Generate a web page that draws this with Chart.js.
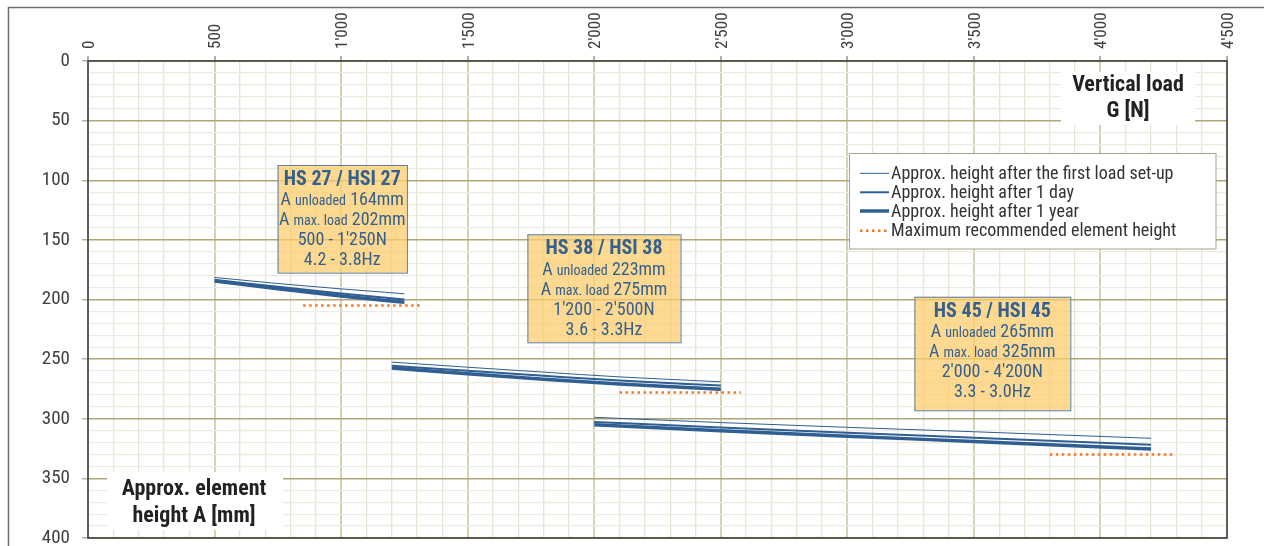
<!DOCTYPE html>
<html lang="en">
<head>
<meta charset="UTF-8">
<title>Approx. element height vs vertical load</title>
<script src="https://cdn.jsdelivr.net/npm/chart.js"></script>
<style>
  html, body { margin: 0; padding: 0; background: #fff; }
  #wrap { width: 1264px; height: 546px; position: relative; }
</style>
</head>
<body>
<div id="wrap"><canvas id="chart"></canvas></div>
<script>
// vertical load G [N] and element height A [mm]
const loadsHS27 = [500, 750, 1000, 1250];
const firstHS27 = [181.5, 186.6, 191.1, 195.2];
const dayHS27 = [183.5, 189.4, 194.9, 200.0];
const yearHS27 = [184.5, 191.0, 197.0, 202.3];

const loadsHS38 = [1200, 1500, 1800, 2100, 2500];
const firstHS38 = [252.5, 256.8, 260.9, 264.9, 269.0];
const dayHS38 = [255.5, 259.8, 264.0, 268.0, 272.2];
const yearHS38 = [257.5, 262.3, 266.8, 270.9, 275.3];

const loadsHS45 = [2000, 2500, 3000, 3500, 4200];
const firstHS45 = [298.8, 303.2, 307.2, 310.9, 316.4];
const dayHS45 = [302.7, 307.4, 311.8, 315.9, 321.7];
const yearHS45 = [305.0, 310.1, 314.7, 319.0, 325.4];

// maximum recommended element height
const maxLoadsHS27 = [850, 1320];
const maxHeightHS27 = [205, 205];
const maxLoadsHS38 = [2100, 2580];
const maxHeightHS38 = [278, 278];
const maxLoadsHS45 = [3800, 4290];
const maxHeightHS45 = [330, 330];

// info boxes
const boxTitles = ['HS 27 / HSI 27', 'HS 38 / HSI 38', 'HS 45 / HSI 45'];
const unloadedHeights = ['164mm', '223mm', '265mm'];
const maxLoadHeights = ['202mm', '275mm', '325mm'];
const loadRanges = ["500 - 1'250N", "1'200 - 2'500N", "2'000 - 4'200N"];
const freqRanges = ['4.2 - 3.8Hz', '3.6 - 3.3Hz', '3.3 - 3.0Hz'];

const legendLabels = [
  'Approx. height after the first load set-up',
  'Approx. height after 1 day',
  'Approx. height after 1 year',
  'Maximum recommended element height'
];

// box placement in axis units
const boxAreas = [
  { x0: 749, x1: 1260, y0: 87.2, y1: 177.5 },
  { x0: 1736, x1: 2341, y0: 145.3, y1: 235.9 },
  { x0: 3265, x1: 3881, y0: 197.7, y1: 292.9 }
];

const NARROW = "'Liberation Sans Narrow', 'Arial Narrow', 'Roboto Condensed', 'Liberation Sans', sans-serif";
const BLUE = '#2f5e92';
const ORANGE = '#f07a2a';

Chart.defaults.font.family = NARROW;

function pts(xs, ys) {
  return xs.map((x, i) => ({ x: x, y: ys[i] }));
}

function fmtLoad(v) {
  if (v >= 1000) return Math.floor(v / 1000) + "'" + String(v % 1000).padStart(3, '0');
  return String(v);
}

function lineSet(xs, first, day, year) {
  return [
    { data: pts(xs, first), borderColor: BLUE, borderWidth: 1 },
    { data: pts(xs, day), borderColor: BLUE, borderWidth: 2 },
    { data: pts(xs, year), borderColor: BLUE, borderWidth: 3.5 }
  ];
}

function maxLine(xs, ys) {
  return { data: pts(xs, ys), borderColor: ORANGE, borderWidth: 2.5, borderDash: [2.5, 3.5] };
}

const datasets = [
  ...lineSet(loadsHS27, firstHS27, dayHS27, yearHS27),
  ...lineSet(loadsHS38, firstHS38, dayHS38, yearHS38),
  ...lineSet(loadsHS45, firstHS45, dayHS45, yearHS45),
  maxLine(maxLoadsHS27, maxHeightHS27),
  maxLine(maxLoadsHS38, maxHeightHS38),
  maxLine(maxLoadsHS45, maxHeightHS45)
].map(d => Object.assign({ pointRadius: 0, fill: false, cubicInterpolationMode: 'monotone' }, d));

function drawMixed(ctx, cx, y, big, small, value) {
  const fBig = '18px ' + NARROW, fSmall = '14px ' + NARROW;
  ctx.font = fBig;
  const w1 = ctx.measureText(big + ' ').width, w3 = ctx.measureText(' ' + value).width;
  ctx.font = fSmall;
  const w2 = ctx.measureText(small).width;
  let x = cx - (w1 + w2 + w3) / 2;
  ctx.textAlign = 'left';
  ctx.font = fBig; ctx.fillText(big + ' ', x, y); x += w1;
  ctx.font = fSmall; ctx.fillText(small, x, y + 1); x += w2;
  ctx.font = fBig; ctx.fillText(' ' + value, x, y);
}

function noPad(s) {
  s.paddingTop = 0; s.paddingBottom = 0; s.paddingLeft = 0; s.paddingRight = 0;
}

const overlay = {
  id: 'overlay',
  beforeDatasetsDraw(chart) {
    const { ctx, chartArea: a } = chart;
    ctx.save();
    // outer frame
    ctx.strokeStyle = '#707070';
    ctx.lineWidth = 1.5;
    ctx.beginPath();
    ctx.moveTo(8.5, 600); ctx.lineTo(8.5, 7.5); ctx.lineTo(1300, 7.5);
    ctx.stroke();
    // axis titles
    ctx.fillStyle = '#fff';
    ctx.fillRect(1061, 72, 134, 53);
    ctx.fillRect(107, 472, 176, 58);
    ctx.fillStyle = '#222';
    ctx.font = 'bold 22px ' + NARROW;
    ctx.textAlign = 'center';
    ctx.textBaseline = 'middle';
    ctx.fillText('Vertical load', 1128, 85);
    ctx.fillText('G [N]', 1128, 111);
    ctx.fillText('Approx. element', 194, 489);
    ctx.fillText('height A [mm]', 194, 516);
    // plot frame
    ctx.strokeStyle = '#3a3a3a';
    ctx.lineWidth = 1.5;
    ctx.strokeRect(a.left, a.top, a.right - a.left, a.bottom - a.top);
    ctx.restore();
  },
  afterDatasetsDraw(chart) {
    const { ctx, scales: { x, y } } = chart;
    ctx.save();
    ctx.textBaseline = 'middle';
    boxAreas.forEach((b, i) => {
      const l = x.getPixelForValue(b.x0), r = x.getPixelForValue(b.x1);
      const t = y.getPixelForValue(b.y0), btm = y.getPixelForValue(b.y1);
      ctx.fillStyle = 'rgba(252, 204, 110, 0.75)';
      ctx.fillRect(l, t, r - l, btm - t);
      ctx.strokeStyle = '#5b7fa6';
      ctx.lineWidth = 1;
      ctx.strokeRect(l + 0.5, t + 0.5, r - l, btm - t);
      const cx = (l + r) / 2;
      ctx.fillStyle = '#34608e';
      ctx.textAlign = 'center';
      ctx.font = 'bold 20px ' + NARROW;
      ctx.fillText(boxTitles[i], cx, t + 15);
      drawMixed(ctx, cx, t + 36, 'A', 'unloaded', unloadedHeights[i]);
      drawMixed(ctx, cx, t + 56, 'A', 'max. load', maxLoadHeights[i]);
      ctx.textAlign = 'center';
      ctx.font = '18px ' + NARROW;
      ctx.fillText(loadRanges[i], cx, t + 76);
      ctx.fillText(freqRanges[i], cx, t + 96);
    });

    // legend
    ctx.fillStyle = '#fff';
    ctx.fillRect(849.5, 153.5, 366.5, 95.5);
    ctx.strokeStyle = '#a8a388';
    ctx.lineWidth = 1;
    ctx.strokeRect(849.5, 153.5, 366.5, 95.5);
    const rows = [173.3, 192.3, 211, 230.7];
    const widths = [1, 2, 3.5, 2.5];
    rows.forEach((ry, i) => {
      ctx.beginPath();
      ctx.strokeStyle = i === 3 ? ORANGE : BLUE;
      ctx.lineWidth = widths[i];
      ctx.setLineDash(i === 3 ? [2.5, 3.5] : []);
      ctx.moveTo(860, ry); ctx.lineTo(889, ry);
      ctx.stroke();
      ctx.setLineDash([]);
      ctx.fillStyle = '#333';
      ctx.textAlign = 'left';
      ctx.font = '18px ' + NARROW;
      ctx.fillText(legendLabels[i], 891, ry + 1);
    });
    ctx.restore();
  }
};

new Chart(document.getElementById('chart'), {
  type: 'line',
  data: { datasets: datasets },
  plugins: [overlay],
  options: {
    responsive: true,
    maintainAspectRatio: false,
    animation: false,
    events: [],
    layout: { padding: { left: 0, right: 37, top: 0, bottom: 8 } },
    plugins: { legend: { display: false }, tooltip: { enabled: false } },
    scales: {
      x: {
        type: 'linear',
        position: 'top',
        min: 0,
        max: 4500,
        afterFit: s => { s.height = 61; noPad(s); },
        border: { display: false },
        grid: {
          color: c => c.tick && c.tick.value % 500 === 0 ? '#d6d1b0' : '#e7e5d5',
          lineWidth: c => c.tick && c.tick.value % 500 === 0 ? 2 : 1.3,
          tickColor: c => c.tick && c.tick.value % 500 === 0 ? '#b0b0b0' : 'rgba(0,0,0,0)',
          tickLength: 5
        },
        ticks: {
          stepSize: 100,
          maxTicksLimit: 1000,
          autoSkip: false,
          minRotation: 90,
          maxRotation: 90,
          padding: 7,
          labelOffset: 22,
          color: '#404040',
          font: { size: 17 },
          callback: v => v % 500 === 0 ? fmtLoad(v) : ''
        }
      },
      y: {
        type: 'linear',
        reverse: true,
        min: 0,
        max: 400,
        afterFit: s => { s.width = 88; noPad(s); },
        border: { display: false },
        grid: {
          color: c => c.tick && c.tick.value % 50 === 0 ? '#b0a676' : '#edebe0',
          lineWidth: c => c.tick && c.tick.value % 50 === 0 ? 1.5 : 1.2,
          tickColor: c => c.tick && c.tick.value % 50 === 0 ? '#b0b0b0' : 'rgba(0,0,0,0)',
          tickLength: 6
        },
        ticks: {
          stepSize: 10,
          maxTicksLimit: 1000,
          autoSkip: false,
          padding: 12,
          color: '#404040',
          font: { size: 19 },
          callback: v => v % 50 === 0 ? v : ''
        }
      }
    }
  }
});
</script>
</body>
</html>
